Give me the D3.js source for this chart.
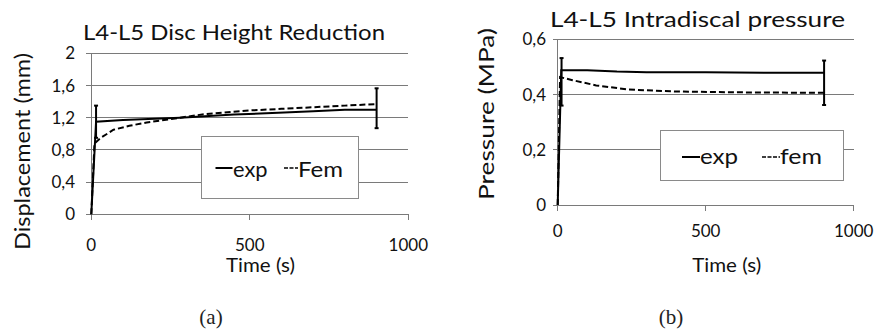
<!DOCTYPE html>
<html><head><meta charset="utf-8">
<script src="https://cdn.jsdelivr.net/npm/d3@7"></script>
<style>
html,body{margin:0;padding:0;background:#fff;}
svg{display:block;}
</style></head>
<body>
<svg id="chart" width="877" height="334"></svg>
<script>
// ---------- Data ----------
// Panel (a): L4-L5 disc height reduction (mm)
const titleA = "L4-L5 Disc Height Reduction";
const yLabelA = "Displacement (mm)";
const yTicksA = [0, 0.4, 0.8, 1.2, 1.6, 2];
const xTicks = [0, 500, 1000];
const expA_t = [0, 15, 100, 220, 280, 450, 590, 700, 800, 900];
const expA_v = [0, 1.15, 1.17, 1.19, 1.2, 1.24, 1.26, 1.28, 1.3, 1.3];
const femA_t = [0, 10, 30, 70, 120, 175, 280, 350, 500, 600, 700, 800, 900];
const femA_v = [0, 0.88, 0.95, 1.05, 1.1, 1.14, 1.2, 1.24, 1.29, 1.31, 1.33, 1.35, 1.37];
const errA_t = [15, 900];
const errA_lo = [0.95, 1.07];
const errA_hi = [1.35, 1.565];
const legendA = ["exp", "Fem"];

// Panel (b): L4-L5 intradiscal pressure (MPa)
const titleB = "L4-L5 Intradiscal pressure";
const yLabelB = "Pressure (MPa)";
const yTicksB = [0, 0.2, 0.4, 0.6];
const expB_t = [0, 12, 100, 200, 300, 500, 700, 900];
const expB_v = [0, 0.488, 0.488, 0.483, 0.481, 0.481, 0.479, 0.479];
const femB_t = [0, 8, 50, 130, 240, 400, 600, 900];
const femB_v = [0, 0.463, 0.452, 0.433, 0.418, 0.411, 0.408, 0.406];
const errB_t = [13, 900];
const errB_lo = [0.36, 0.362];
const errB_hi = [0.532, 0.523];
const legendB = ["exp", "fem"];

const xLabel = "Time (s)";
const captions = ["(a)", "(b)"];

// ---------- Drawing ----------
const svg = d3.select("#chart");
const FONT = "Lato, 'Open Sans', sans-serif";
const fmt = v => String(v).replace(".", ",");

function panel(cfg) {
  const g = svg.append("g");
  const x = d3.scaleLinear().domain([0, 1000]).range(cfg.xr);
  const y = d3.scaleLinear().domain([0, cfg.ymax]).range(cfg.yr);
  const GRID = "#7a7a7a";

  // gridlines (horizontal), extended left to form ticks
  g.append("g").selectAll("line").data(cfg.yTicks).join("line")
    .attr("x1", cfg.xr[0] - 5).attr("x2", cfg.xr[1])
    .attr("y1", d => y(d)).attr("y2", d => y(d))
    .attr("stroke", GRID).attr("stroke-width", 1).attr("shape-rendering", "crispEdges");

  // y axis line
  g.append("line").attr("x1", x(0)).attr("x2", x(0))
    .attr("y1", y(cfg.ymax)).attr("y2", y(0) + 6)
    .attr("stroke", GRID).attr("stroke-width", 1).attr("shape-rendering", "crispEdges");

  // x ticks
  g.append("g").selectAll("line").data(xTicks).join("line")
    .attr("x1", d => x(d)).attr("x2", d => x(d))
    .attr("y1", y(0)).attr("y2", y(0) + 6)
    .attr("stroke", GRID).attr("stroke-width", 1).attr("shape-rendering", "crispEdges");

  // y tick labels
  g.append("g").selectAll("text").data(cfg.yTicks).join("text")
    .attr("x", cfg.yLabX).attr("y", d => y(d)).attr("dy", "0.36em")
    .attr("text-anchor", "end").attr("font-family", FONT).attr("font-size", cfg.tickFs)
    .attr("fill", "#111").text(fmt);

  // x tick labels
  g.append("g").selectAll("text").data(xTicks).join("text")
    .attr("x", d => x(d)).attr("y", cfg.xLabY)
    .attr("text-anchor", "middle").attr("font-family", FONT).attr("font-size", cfg.tickFs)
    .attr("fill", "#111").text(d => d);

  // x axis title
  g.append("text").attr("x", cfg.xTitleX).attr("y", cfg.xTitleY)
    .attr("text-anchor", "middle").attr("font-family", FONT).attr("font-size", 19)
    .attr("textLength", 69).attr("lengthAdjust", "spacingAndGlyphs")
    .attr("fill", "#111").text(xLabel);

  // y axis title
  g.append("text")
    .attr("transform", `translate(${cfg.yTitleX},${cfg.yTitleY}) rotate(-90)`)
    .attr("text-anchor", "middle").attr("font-family", FONT).attr("font-size", 22)
    .attr("textLength", cfg.yTitleLen).attr("lengthAdjust", "spacingAndGlyphs")
    .attr("fill", "#111").text(cfg.yLabel);

  // chart title
  g.append("text").attr("x", cfg.titleX).attr("y", cfg.titleY)
    .attr("text-anchor", "middle").attr("font-family", FONT).attr("font-size", 22)
    .attr("textLength", cfg.titleLen).attr("lengthAdjust", "spacingAndGlyphs")
    .attr("fill", "#111").text(cfg.title);

  const line = d3.line().x(d => x(d[0])).y(d => y(d[1]));

  // fem (dashed)
  g.append("path").datum(d3.zip(cfg.femT, cfg.femV)).attr("d", line)
    .attr("fill", "none").attr("stroke", "#000").attr("stroke-width", 2)
    .attr("stroke-dasharray", "6,3");
  // exp (solid)
  g.append("path").datum(d3.zip(cfg.expT, cfg.expV)).attr("d", line)
    .attr("fill", "none").attr("stroke", "#000").attr("stroke-width", 2);

  // error bars
  const eb = g.append("g").selectAll("g").data(d3.range(cfg.errT.length)).join("g");
  eb.append("line").attr("x1", i => x(cfg.errT[i])).attr("x2", i => x(cfg.errT[i]))
    .attr("y1", i => y(cfg.errLo[i])).attr("y2", i => y(cfg.errHi[i]))
    .attr("stroke", "#000").attr("stroke-width", 2);
  ["errLo", "errHi"].forEach(k => {
    eb.append("line").attr("x1", i => x(cfg.errT[i]) - 2).attr("x2", i => x(cfg.errT[i]) + 2)
      .attr("y1", i => y(cfg[k][i])).attr("y2", i => y(cfg[k][i]))
      .attr("stroke", "#000").attr("stroke-width", 2);
  });

  // legend
  const L = cfg.legend;
  g.append("rect").attr("x", L.x0).attr("y", L.y0).attr("width", L.x1 - L.x0).attr("height", L.y1 - L.y0)
    .attr("fill", "#fff").attr("stroke", "#8a8a8a").attr("stroke-width", 1).attr("shape-rendering", "crispEdges");
  g.append("line").attr("x1", L.s1[0]).attr("x2", L.s1[1]).attr("y1", L.sy).attr("y2", L.sy)
    .attr("stroke", "#000").attr("stroke-width", 2);
  g.append("line").attr("x1", L.s2[0]).attr("x2", L.s2[1]).attr("y1", L.sy).attr("y2", L.sy)
    .attr("stroke", "#000").attr("stroke-width", 1.5).attr("stroke-dasharray", "4,1.5");
  g.append("text").attr("x", L.t1).attr("y", L.ty).attr("font-family", FONT).attr("font-size", L.fs)
    .attr("textLength", L.w1).attr("lengthAdjust", "spacingAndGlyphs")
    .attr("fill", "#111").text(cfg.legendNames[0]);
  g.append("text").attr("x", L.t2).attr("y", L.ty).attr("font-family", FONT).attr("font-size", L.fs)
    .attr("textLength", L.w2).attr("lengthAdjust", "spacingAndGlyphs")
    .attr("fill", "#111").text(cfg.legendNames[1]);

  // caption
  svg.append("text").attr("x", cfg.capX).attr("y", 324).attr("text-anchor", "middle")
    .attr("font-family", "'Liberation Serif', 'DejaVu Serif', serif").attr("font-size", 21)
    .attr("fill", "#222").text(cfg.caption);
}

panel({
  xr: [91.3, 408.3], yr: [214.3, 53.3], ymax: 2, yTicks: yTicksA,
  yLabX: 75, xLabY: 251, tickFs: 17, xTitleX: 260.5, xTitleY: 272,
  yTitleX: 30, yTitleY: 151.5, yTitleLen: 197, yLabel: yLabelA,
  titleX: 234, titleY: 40, titleLen: 302, title: titleA,
  expT: expA_t, expV: expA_v, femT: femA_t, femV: femA_v,
  errT: errA_t, errLo: errA_lo, errHi: errA_hi,
  legend: {x0: 201.5, x1: 358.5, y0: 136.5, y1: 198.5, s1: [215.5, 232.5], s2: [284, 298], sy: 168,
           t1: 233, t2: 298, ty: 177, fs: 21, w1: 34.5, w2: 45},
  legendNames: legendA, caption: captions[0], capX: 211
});

panel({
  xr: [557.7, 853.7], yr: [205, 39.3], ymax: 0.6, yTicks: yTicksB,
  yLabX: 546, xLabY: 237, tickFs: 17, xTitleX: 726.7, xTitleY: 272,
  yTitleX: 494, yTitleY: 114, yTitleLen: 172, yLabel: yLabelB,
  titleX: 697.5, titleY: 27, titleLen: 295, title: titleB,
  expT: expB_t, expV: expB_v, femT: femB_t, femV: femB_v,
  errT: errB_t, errLo: errB_lo, errHi: errB_hi,
  legend: {x0: 660.5, x1: 843.5, y0: 130.5, y1: 180.5, s1: [682, 700], s2: [762, 780], sy: 157,
           t1: 700, t2: 780, ty: 164, fs: 21, w1: 38, w2: 42},
  legendNames: legendB, caption: captions[1], capX: 671
});
</script>
</body></html>
